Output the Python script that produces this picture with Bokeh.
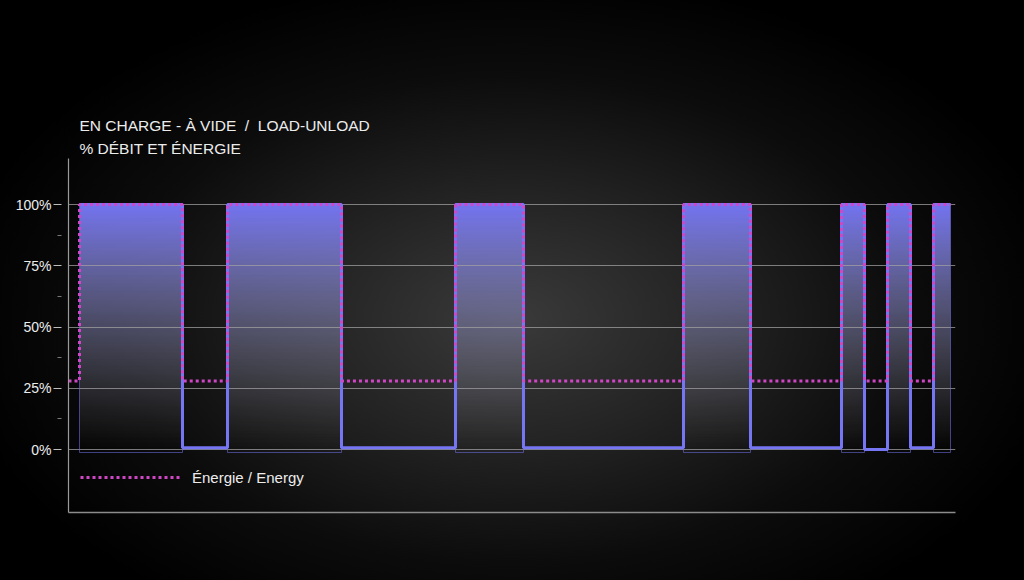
import numpy as np
from bokeh.plotting import figure
from bokeh.models import FixedTicker, PrintfTickFormatter, Title, Range1d
from bokeh.embed import file_html
from bokeh.resources import INLINE

# ---------------- data ----------------
title_line1 = "EN CHARGE - À VIDE\u00a0\u00a0/\u00a0\u00a0LOAD-UNLOAD"
title_line2 = "% DÉBIT ET ÉNERGIE"
energy_label = "Énergie / Energy"

# load phases (time, s)
load_start = [1.1, 15.9, 38.7, 61.5, 77.3, 81.9, 86.5]
load_end = [11.4, 27.3, 45.5, 68.2, 79.6, 84.2, 88.2]
load_level = 100          # % flow and energy while loaded
gap_flow = [0.7, 0.7, 0.7, 0.7, 0.0, 0.7]     # % flow while unloaded
gap_energy = [28, 28, 28, 28, 28, 28]         # % energy while unloaded
start_energy = 28
bar_base = -1.2

y_ticks = [0, 25, 50, 75, 100]
y_minor_ticks = [12.5, 37.5, 62.5, 87.5]
x_start, x_end = 0, 88.7
y_start, y_end = -25.7, 118.8

# ---------------- colours ----------------
FLOW_COLOR = "#7676f4"
ENERGY_COLOR = "#d046c6"
TEXT_COLOR = "#ececec"
FONT = "Liberation Sans"

# ---------------- series construction ----------------
flow_x, flow_y = [], []
energy_x, energy_y = [x_start, load_start[0]], [start_energy, start_energy]
for i, (s, e) in enumerate(zip(load_start, load_end)):
    flow_x += [s, e]
    flow_y += [load_level, load_level]
    energy_x += [s, e]
    energy_y += [load_level, load_level]
    if i < len(gap_flow):
        flow_x += [e, load_start[i + 1]]
        flow_y += [gap_flow[i], gap_flow[i]]
        energy_x += [e, load_start[i + 1]]
        energy_y += [gap_energy[i], gap_energy[i]]

# vertical gradient for the load bars (row 0 = bottom)
n = 256
t = np.linspace(0, 1, n)
alpha = t ** 1.1
mix = t ** 1.4
c0 = np.array([165, 165, 175])
c1 = np.array([116, 116, 242])
cols = c0[None, :] * (1 - mix[:, None]) + c1[None, :] * mix[:, None]
grad = np.zeros((n, 1), dtype=np.uint32)
view = grad.view(dtype=np.uint8).reshape((n, 1, 4))
view[:, 0, 0] = cols[:, 0].astype(np.uint8)
view[:, 0, 1] = cols[:, 1].astype(np.uint8)
view[:, 0, 2] = cols[:, 2].astype(np.uint8)
view[:, 0, 3] = (alpha * 255).astype(np.uint8)

# ---------------- figure ----------------
p = figure(width=1024, height=580, output_backend="svg", toolbar_location=None,
           x_range=Range1d(x_start, x_end), y_range=Range1d(y_start, y_end),
           min_border_left=68, min_border_right=69, min_border_top=158,
           min_border_bottom=68)
p.background_fill_alpha = 0
p.border_fill_alpha = 0
p.outline_line_color = None
p.styles = {"background": "radial-gradient(ellipse 55% 60% at 50% 55%, #3a3a3a 0%, #242424 35%, #0c0c0c 70%, #000000 100%)"}

# titles (first added = nearest to frame)
for txt in [title_line2, title_line1]:
    p.add_layout(Title(text=txt, align="left", offset=11, text_font=FONT,
                       text_font_size="15.5px", text_font_style="normal",
                       text_color=TEXT_COLOR, standoff=4), "above")

# bars
widths = [e - s for s, e in zip(load_start, load_end)]
img = p.image_rgba(image=[grad] * len(load_start), x=load_start,
                   y=[bar_base] * len(load_start), dw=widths,
                   dh=[load_level - bar_base] * len(load_start))
img.level = "image"
p.quad(left=load_start, right=load_end, bottom=bar_base, top=load_level,
       fill_alpha=0, line_color="#6a6ad8", line_alpha=0.6, line_width=1)

# lines
p.line(flow_x, flow_y, line_color=FLOW_COLOR, line_width=3)
p.line(energy_x, energy_y, line_color=ENERGY_COLOR, line_width=3,
       line_dash="3 3", legend_label=energy_label)

# axes
p.xaxis.axis_line_color = "#8c8c8c"
p.xaxis.axis_line_width = 1.5
p.xaxis.major_tick_line_color = None
p.xaxis.minor_tick_line_color = None
p.xaxis.major_label_text_color = None
p.xaxis.major_label_text_font_size = "1px"

yax = p.yaxis[0]
yax.ticker = FixedTicker(ticks=y_ticks, minor_ticks=y_minor_ticks)
yax.formatter = PrintfTickFormatter(format="%d%%")
yax.axis_line_color = "#9a9a9a"
yax.axis_line_width = 1.2
yax.major_tick_in = -7
yax.major_tick_out = 15
yax.minor_tick_in = -7
yax.minor_tick_out = 11
yax.major_tick_line_color = "#bdbdbd"
yax.minor_tick_line_color = "#7a7a7a"
yax.major_label_standoff = 2
yax.major_label_text_font = FONT
yax.major_label_text_font_size = "14px"
yax.major_label_text_color = TEXT_COLOR

p.xgrid.visible = False
p.ygrid.ticker = FixedTicker(ticks=y_ticks)
p.ygrid.grid_line_color = "#a0a0a0"
p.ygrid.grid_line_alpha = 0.75
p.ygrid.grid_line_width = 1.2

# legend
lg = p.legend[0]
lg.location = (12, 25)
lg.margin = 0
lg.padding = 0
lg.glyph_width = 102
lg.glyph_height = 20
lg.label_standoff = 10
lg.label_text_font = FONT
lg.label_text_font_size = "15px"
lg.label_text_color = TEXT_COLOR
lg.background_fill_alpha = 0
lg.border_line_alpha = 0

open("out.html", "w").write(file_html(p, INLINE))
